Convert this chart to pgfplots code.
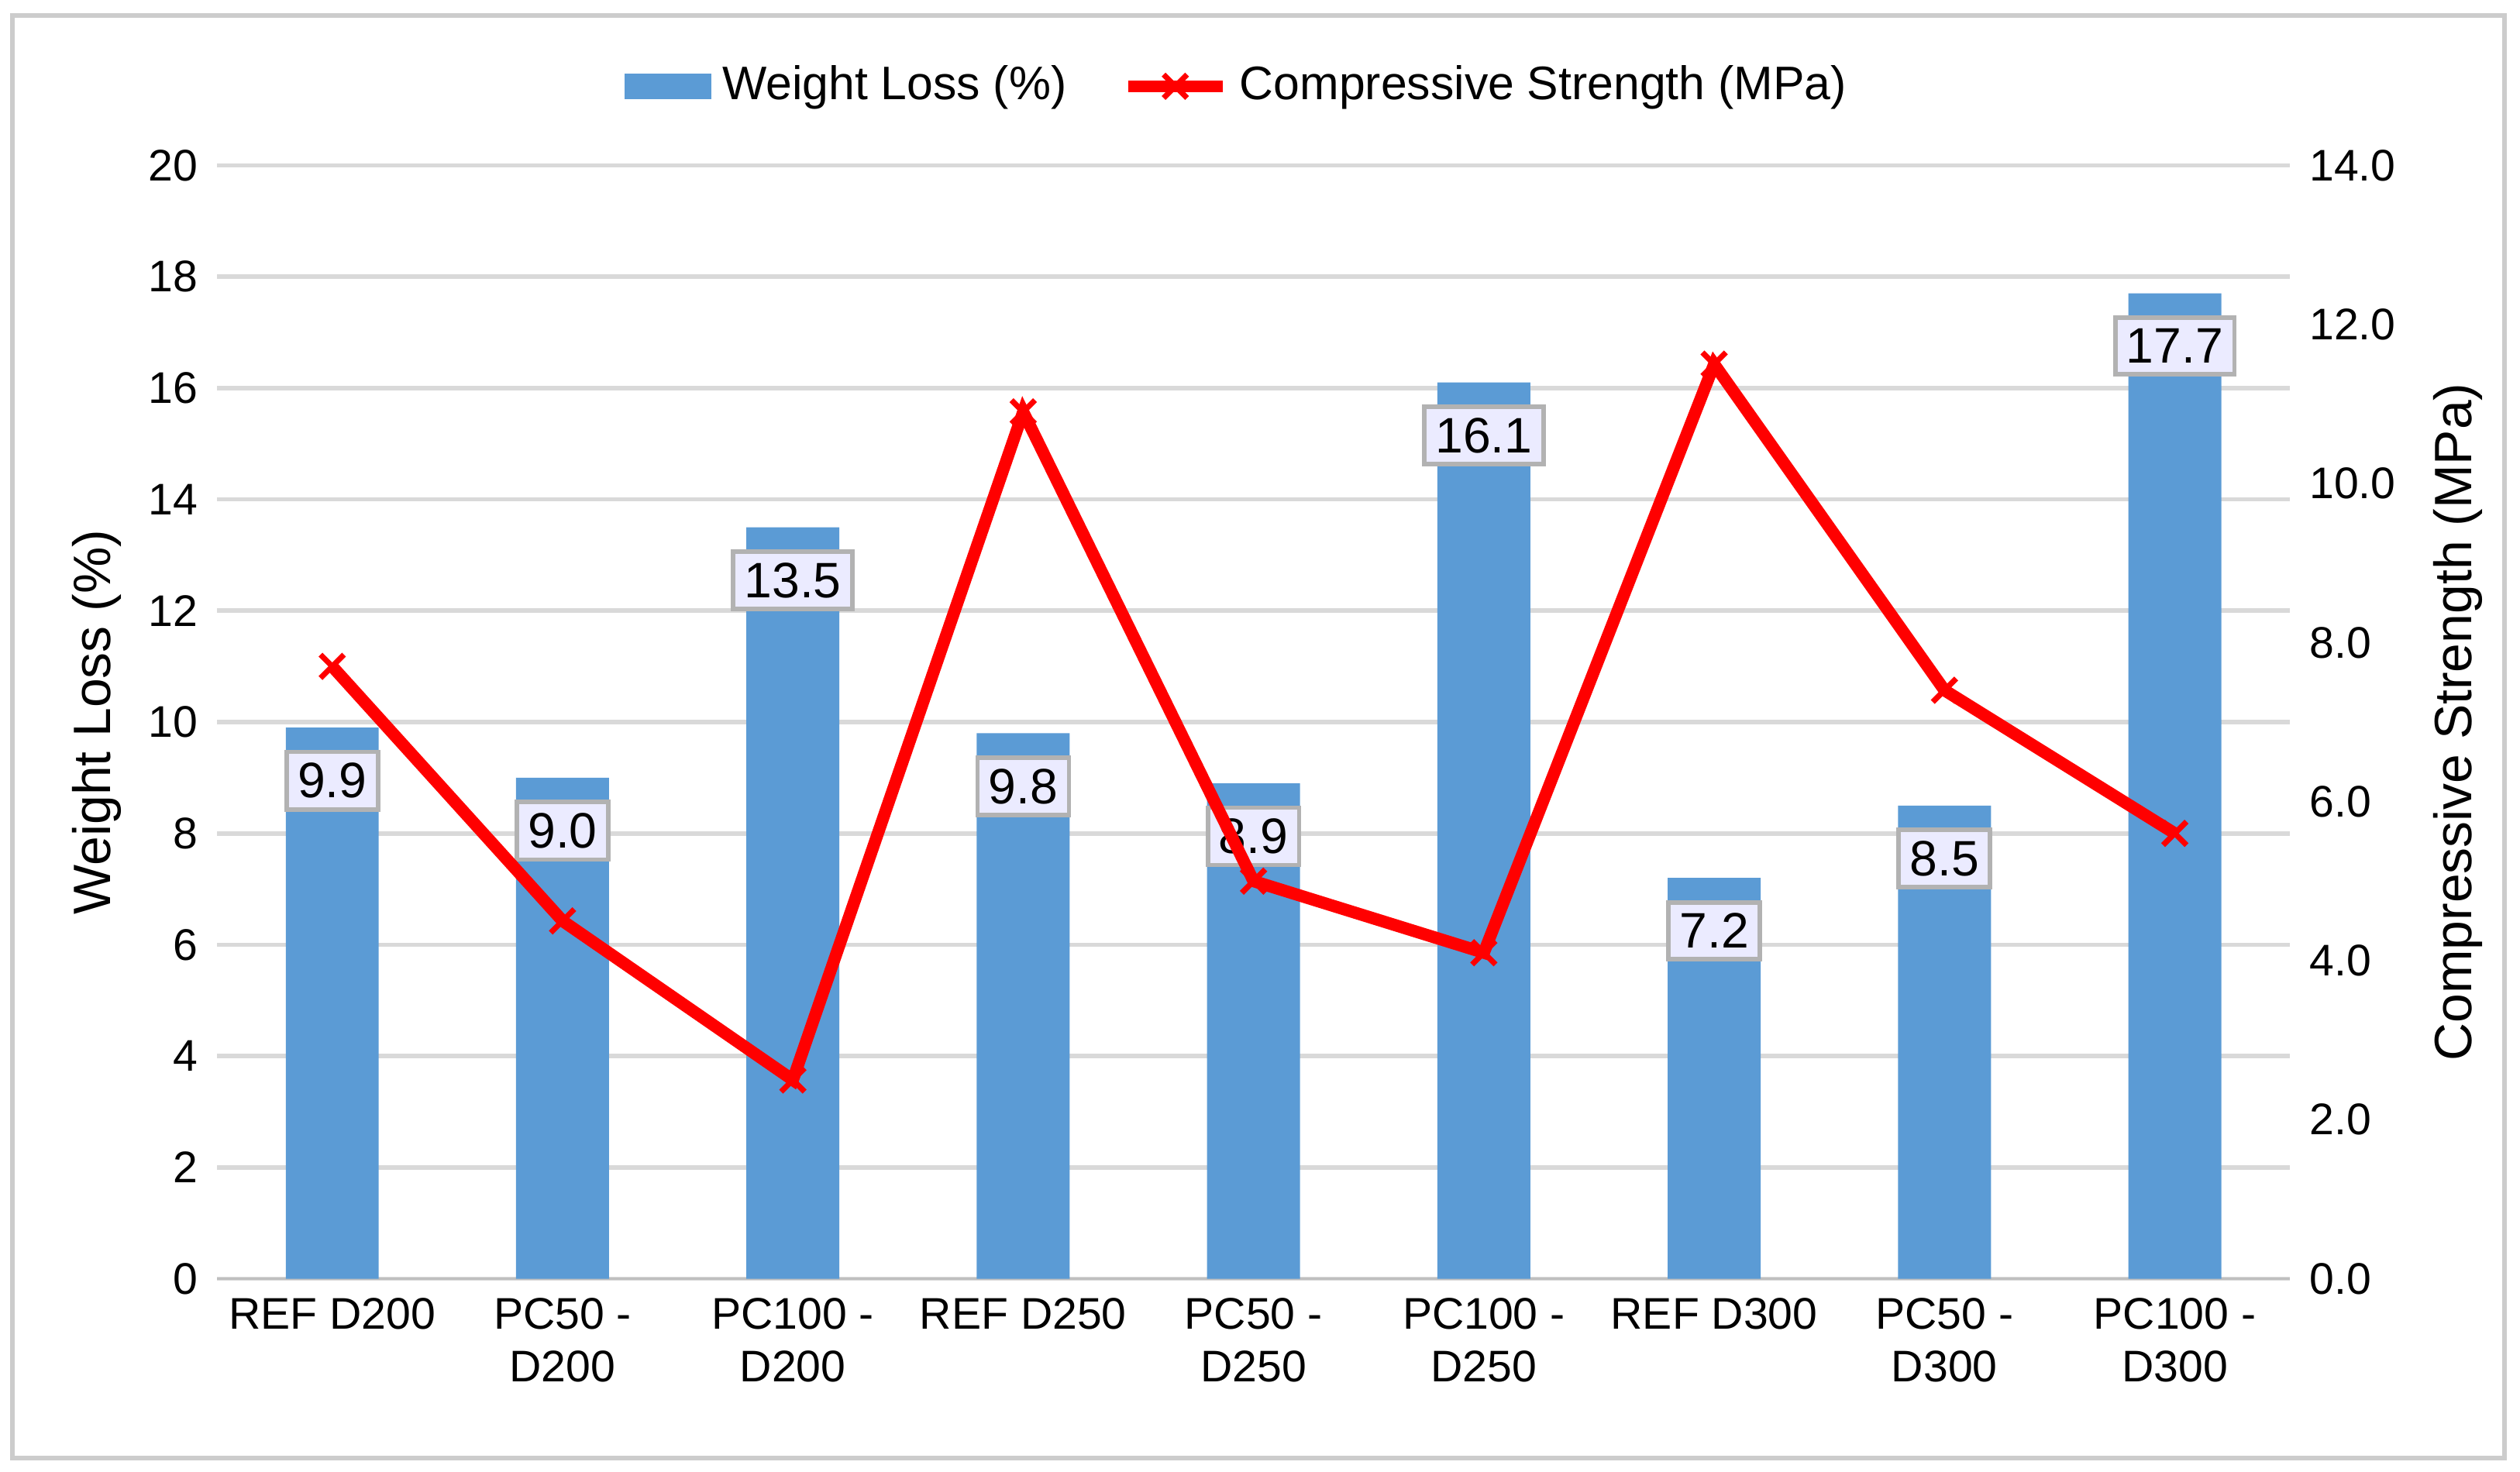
\documentclass[border=0pt]{standalone}
\usepackage{pgfplots}
\pgfplotsset{compat=1.18}
\usepackage{fontspec}
\setmainfont{Liberation Sans}
\definecolor{barblue}{HTML}{5B9BD5}
\begin{document}
\begin{tikzpicture}[font=\fontsize{8}{9.5}\selectfont]
\useasboundingbox (-1.378,-1.224) rectangle (14.62,8.12);
\draw[gray!40, line width=0.8pt] (-1.30,-1.14) rectangle (14.52,8.02);
\begin{axis}[
  at={(0,0)}, anchor=south west, scale only axis,
  width=13.16cm, height=7.07cm,
  xmin=-0.5, xmax=8.5, ymin=0, ymax=20,
  xtick={0,...,8},
  xticklabels={REF D200, PC50 -\\D200, PC100 -\\D200, REF D250, PC50 -\\D250, PC100 -\\D250, REF D300, PC50 -\\D300, PC100 -\\D300},
  xticklabel style={align=center},
  ytick={0,2,...,20},
  axis y line*=left, axis x line*=bottom,
  axis line style={draw=none},
  x axis line style={draw=gray!50},
  major tick length=0pt,
  ymajorgrids, grid style={gray!30, line width=0.8pt},
  ylabel={Weight Loss (\%)}, ylabel style={font=\fontsize{9.5}{11}\selectfont, yshift=-2pt},
  /pgf/number format/assume math mode=true,
  nodes near coords,
  nodes near coords style={/pgf/number format/.cd, fixed, fixed zerofill, precision=1, /tikz/.cd,
     anchor=north, yshift=-4pt, fill=blue!8!white, draw=gray!60, line width=0.8pt, inner sep=2pt, font=\fontsize{9}{10}\selectfont},
]
\addplot[ybar, bar width=0.59cm, fill=barblue, draw=none] coordinates {
(0,9.9) (1,9.0) (2,13.5) (3,9.8) (4,8.9) (5,16.1) (6,7.2) (7,8.5) (8,17.7)};
\end{axis}
\begin{axis}[
  at={(0,0)}, anchor=south west, scale only axis,
  width=13.16cm, height=7.07cm,
  xmin=-0.5, xmax=8.5, ymin=0, ymax=14,
  axis y line*=right, axis x line=none,
  axis line style={draw=none},
  major tick length=0pt,
  ytick={0,2,...,14},
  yticklabel style={/pgf/number format/.cd, fixed, fixed zerofill, precision=1},
  /pgf/number format/assume math mode=true,
  ylabel={Compressive Strength (MPa)}, ylabel style={font=\fontsize{9.5}{11}\selectfont},
  legend style={at={(0.494,1.071)}, anchor=center, draw=none, fill=none, legend columns=2,
    /tikz/every even column/.append style={column sep=8pt}, font=\fontsize{8.5}{10}\selectfont},
  legend image code/.code={},
]
\addlegendimage{area legend, fill=barblue, draw=none, legend image code/.code={\fill[barblue] (0cm,-0.08cm) rectangle (0.55cm,0.08cm);}}
\addlegendentry{Weight Loss (\%)}
\addplot[red, line width=2.2pt, mark=x, mark size=3pt, mark options={line width=1pt},
  legend image code/.code={\draw[red, line width=2.2pt] (0cm,0cm) -- (0.6cm,0cm); \draw[red,line width=1pt] plot[mark=x, mark size=3pt] coordinates {(0.3cm,0cm)};}]
coordinates {(0,7.7) (1,4.5) (2,2.5) (3,10.9) (4,5.0) (5,4.1) (6,11.5) (7,7.4) (8,5.6)};
\addlegendentry{Compressive Strength (MPa)}
\end{axis}
\end{tikzpicture}
\end{document}
